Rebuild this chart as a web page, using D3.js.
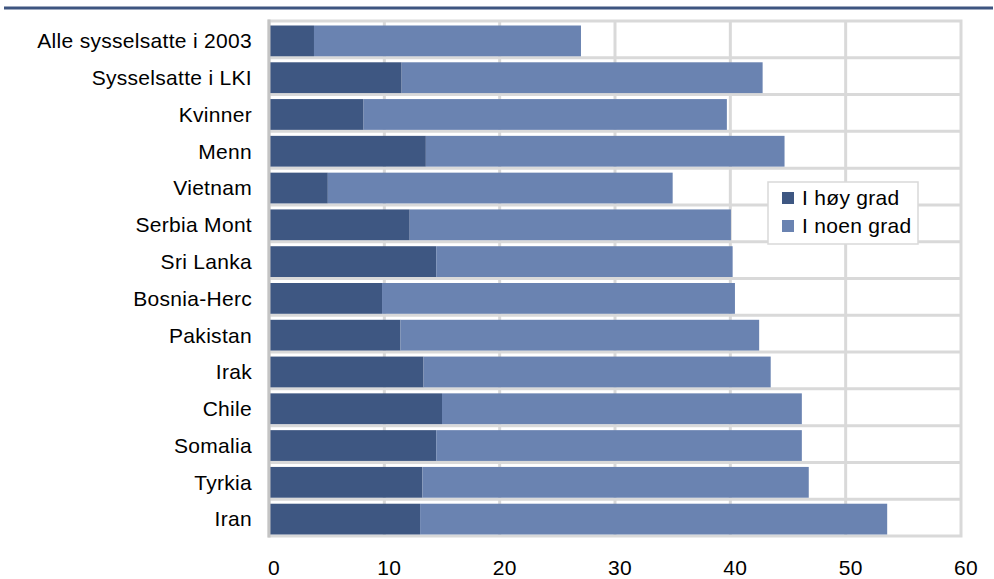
<!DOCTYPE html>
<html>
<head>
<meta charset="utf-8">
<script src="https://cdn.jsdelivr.net/npm/d3@7/dist/d3.min.js"></script>
<style>
  html, body { margin: 0; padding: 0; background: #ffffff; }
  svg { display: block; }
  text { font-family: "Liberation Sans", Arial, sans-serif; fill: #000; letter-spacing: 0.3px; }
</style>
</head>
<body>
<svg id="chart" width="994" height="579"></svg>
<script>
const categories = ["Alle sysselsatte i 2003", "Sysselsatte i LKI", "Kvinner", "Menn", "Vietnam",
  "Serbia Mont", "Sri Lanka", "Bosnia-Herc", "Pakistan", "Irak", "Chile", "Somalia", "Tyrkia", "Iran"];
const hoyGrad = [3.9, 11.5, 8.2, 13.6, 5.1, 12.2, 14.5, 9.8, 11.4, 13.4, 15.0, 14.5, 13.3, 13.1];
const noenGrad = [23.15, 31.3, 31.5, 31.1, 29.9, 27.85, 25.7, 30.6, 31.1, 30.1, 31.2, 31.7, 33.5, 40.5];
const seriesNames = ["I høy grad", "I noen grad"];
const xTicks = [0, 10, 20, 30, 40, 50, 60];

const colors = ["#3e5782", "#6a83b1"];
const grid = "#d9d9d9";
const fs = 21;

const svg = d3.select("#chart");
const pLeft = 269, pRight = 961, pTop = 21, pBottom = 536;

const x = d3.scaleLinear().domain([0, 60]).range([pLeft, pRight]);
const y = d3.scaleBand().domain(categories).range([pTop, pBottom]).padding(0);

// top rule
svg.append("line").attr("x1", 4).attr("x2", 993).attr("y1", 8).attr("y2", 8)
  .attr("stroke", "#3e5580").attr("stroke-width", 3);

// plot area border
svg.append("rect").attr("x", pLeft).attr("y", pTop).attr("width", pRight - pLeft).attr("height", pBottom - pTop)
  .attr("fill", "#fff").attr("stroke", grid).attr("stroke-width", 3);

// vertical gridlines
svg.append("g").selectAll("line").data(xTicks.slice(1, -1)).join("line")
  .attr("x1", d => x(d)).attr("x2", d => x(d)).attr("y1", pTop).attr("y2", pBottom)
  .attr("stroke", grid).attr("stroke-width", 3);

// horizontal gridlines at band boundaries
svg.append("g").selectAll("line").data(categories.slice(1)).join("line")
  .attr("x1", pLeft).attr("x2", pRight).attr("y1", d => y(d)).attr("y2", d => y(d))
  .attr("stroke", grid).attr("stroke-width", 3);

// stacked data
const rows = categories.map((c, i) => ({ cat: c, a: hoyGrad[i], b: noenGrad[i] }));
const stack = d3.stack().keys(["a", "b"])(rows);

const bw = y.bandwidth();
const barOff = 4.5, barH = bw - 6;
svg.append("g").selectAll("g").data(stack).join("g")
  .attr("fill", (d, i) => colors[i])
  .selectAll("rect").data(d => d).join("rect")
  .attr("x", d => x(d[0]))
  .attr("y", d => y(d.data.cat) + barOff)
  .attr("width", d => x(d[1]) - x(d[0]))
  .attr("height", barH);

// left axis line
svg.append("line").attr("x1", pLeft).attr("x2", pLeft).attr("y1", pTop - 1.5).attr("y2", pBottom + 1.5)
  .attr("stroke", "#c4c4c4").attr("stroke-width", 3);

// category labels
svg.append("g").selectAll("text").data(categories).join("text")
  .attr("x", 252).attr("y", d => y(d) + barOff + barH / 2)
  .attr("dy", "0.35em").attr("text-anchor", "end").attr("font-size", fs)
  .text(d => d);

// x tick labels
svg.append("g").selectAll("text").data(xTicks).join("text")
  .attr("x", d => x(d) + 5).attr("y", 575)
  .attr("text-anchor", "middle").attr("font-size", fs)
  .text(d => d);

// legend
const lg = svg.append("g");
lg.append("rect").attr("x", 768).attr("y", 182).attr("width", 150).attr("height", 62)
  .attr("fill", "#fff").attr("stroke", grid).attr("stroke-width", 1.5);
seriesNames.forEach((n, i) => {
  lg.append("rect").attr("x", 782).attr("y", 192 + i * 28).attr("width", 12).attr("height", 12)
    .attr("fill", colors[i]);
  lg.append("text").attr("x", 802).attr("y", 205 + i * 28).attr("font-size", fs).text(n);
});
</script>
</body>
</html>
